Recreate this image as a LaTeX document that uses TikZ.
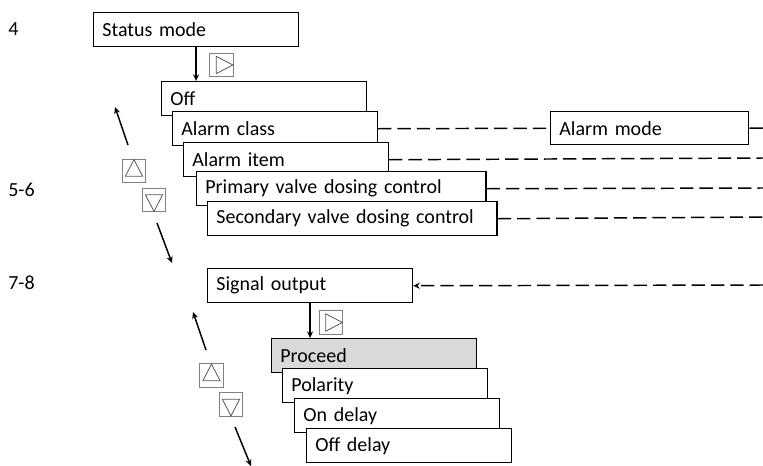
\documentclass[tikz,border=0pt]{standalone}
\usepackage{fontspec}
\setmainfont{Carlito}
\usetikzlibrary{positioning, arrows.meta, shapes.geometric}
\definecolor{cKey}{HTML}{808080}
\definecolor{cSel}{HTML}{D9D9D9}

\begin{document}
\begin{tikzpicture}[
  x=0.75pt, y=-0.75pt,
  font=\fontsize{15}{18}\selectfont,
  >={Stealth[length=5pt, width=4.5pt]},
  menu/.style={draw, fill=white, line width=1.1pt, anchor=north west,
               inner xsep=6.5pt, inner ysep=0pt, minimum height=25.5pt,
               text width=140.5pt, align=left},
  wide/.style={text width=204pt},
  keybox/.style={draw=cKey, line width=0.6pt, fill=white,
                 minimum size=17.5pt, inner sep=0pt},
  tri/.style={isosceles triangle, isosceles triangle stretches, draw=black!65,
              line width=0.6pt, inner sep=0pt, minimum width=13pt,
              minimum height=12.5pt},
  step lbl/.style={anchor=west, inner sep=0pt},
  move/.style={->, line width=1.1pt},
  link/.style={line width=1.1pt, dash pattern=on 10pt off 4.5pt},
]
\useasboundingbox (0,0) rectangle (763,465);

% ====================== step numbers ====================================
\node[step lbl] (n4) at (8,29) {4};
\node[step lbl] (n56) at (8,190) {5-6};
\node[step lbl] (n78) at (8,283) {7-8};

% ====================== status mode / first menu ========================
\node[menu] (status) at (93,12) {Status mode};
\node[menu] (off) at (161,81) {Off};
\node[menu] (aclass) at (172,111) {Alarm class};
\node[menu] (aitem) at (183,142) {Alarm item};
\node[menu, wide] (primary) at (196,171) {Primary valve dosing control};
\node[menu, wide] (secondary) at (207,201) {Secondary valve dosing control};
\node[menu, text width=135.5pt, minimum height=24.75pt] (amode) at (550,111) {Alarm mode};
\draw[move] (status.south) -- (status.south |- off.north);
\node[keybox] (kr1) at (221.5,65) {};
\node[tri] (tr1) at (kr1) {};

% up / down keys
\node[keybox] (ku1) at (134,171) {};
\node[tri, shape border rotate=90] (tu1) at (ku1) {};
\node[keybox] (kd1) at (154,200) {};
\node[tri, shape border rotate=-90] (td1) at (kd1) {};
\coordinate (u1a) at (128,145);
\coordinate (u1b) at (115,107);
\coordinate (d1a) at (157,223);
\coordinate (d1b) at (172,263);
\draw[move] (u1a) -- (u1b);
\draw[move] (d1a) -- (d1b);

% links to the right
\coordinate (e1) at (763,128);
\coordinate (e2) at (763,158);
\coordinate (e3) at (763,188);
\coordinate (e4) at (763,217);
\coordinate (e5) at (763,285);
\draw[link] (aclass.east) -- (amode.west);
\draw[link] (amode.east) -- (e1);
\draw[link] (aitem.east) -- (e2);
\draw[link] (primary.east) -- (e3);
\draw[link] (secondary.east) -- (e4);

% ====================== signal output ===================================
\node[menu] (signal) at (207,268) {Signal output};
\draw[link, ->] (e5) -- (signal.east);
\node[menu, fill=cSel] (proceed) at (271,338) {Proceed};
\node[menu] (polarity) at (282,368) {Polarity};
\node[menu] (ondelay) at (294,398) {On delay};
\node[menu] (offdelay) at (306,428) {Off delay};
\draw[move] (signal.south) -- (signal.south |- proceed.north);
\node[keybox] (kr2) at (331,322.5) {};
\node[tri] (tr2) at (kr2) {};

\node[keybox] (ku2) at (211.5,375.5) {};
\node[tri, shape border rotate=90] (tu2) at (ku2) {};
\node[keybox] (kd2) at (231,404.5) {};
\node[tri, shape border rotate=-90] (td2) at (kd2) {};
\coordinate (u2a) at (206,350);
\coordinate (u2b) at (193,312);
\coordinate (d2a) at (235,427);
\coordinate (d2b) at (251,466);
\draw[move] (u2a) -- (u2b);
\draw[move] (d2a) -- (d2b);

\end{tikzpicture}
\end{document}
